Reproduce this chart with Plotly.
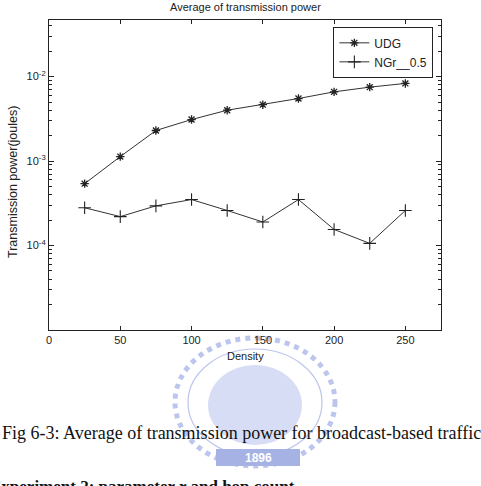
import plotly.graph_objects as go

density = [25, 50, 75, 100, 125, 150, 175, 200, 225, 250]
udg = [5.4e-4, 1.13e-3, 2.3e-3, 3.1e-3, 4.0e-3, 4.65e-3, 5.5e-3, 6.6e-3, 7.5e-3, 8.3e-3]
ngr = [2.8e-4, 2.2e-4, 2.95e-4, 3.5e-4, 2.6e-4, 1.9e-4, 3.5e-4, 1.55e-4, 1.06e-4, 2.6e-4]
x_ticks = [0, 50, 100, 150, 200, 250]
y_ticks = [1e-4, 1e-3, 1e-2]
y_tick_text = ["10<sup>-4</sup>", "10<sup>-3</sup>", "10<sup>-2</sup>"]

W, H = 481, 486
L, R, T, B = 49, 441, 20, 330
pw, ph = R - L, B - T

def px(x):
    return (x - L) / pw

def py(y):
    return (B - y) / ph

fig = go.Figure()
fig.add_trace(go.Scatter(x=density, y=udg, name="UDG", mode="lines+markers",
                         line=dict(color="#333", width=1),
                         marker=dict(symbol="asterisk-open", size=7, color="#222",
                                     line=dict(width=1.3, color="#222"))))
fig.add_trace(go.Scatter(x=density, y=ngr, name="NGr__0.5", mode="lines+markers",
                         line=dict(color="#333", width=1),
                         marker=dict(symbol="cross-thin-open", size=9, color="#222",
                                     line=dict(width=1.1, color="#222"))))

axis_font = dict(family="Liberation Sans, Arial", size=11, color="#222")
fig.update_layout(
    width=W, height=H,
    margin=dict(l=L, r=W - R, t=T, b=H - B),
    paper_bgcolor="white", plot_bgcolor="white",
    showlegend=True,
    legend=dict(x=0.98, y=0.977, xanchor="right", yanchor="top",
                bordercolor="#222", borderwidth=1.2, bgcolor="white",
                font=dict(family="Liberation Sans, Arial", size=12, color="#222"),
                tracegroupgap=0, itemwidth=30),
    xaxis=dict(range=[0, 275], tickvals=x_ticks, ticks="inside", ticklen=4,
               showgrid=False, zeroline=False, showline=True, linecolor="#222",
               linewidth=1.2, mirror="ticks", tickfont=axis_font, tickcolor="#222"),
    yaxis=dict(type="log", range=[-5, -1.33], tickvals=y_ticks, ticktext=y_tick_text,
               ticks="inside", ticklen=5, showgrid=False, zeroline=False,
               showline=True, linecolor="#222", linewidth=1.2, mirror="ticks",
               tickfont=axis_font, tickcolor="#222",
               minor=dict(ticks="inside", ticklen=3, tickcolor="#222", showgrid=False,
                          dtick="D1")),
    font=axis_font,
)

# faint watermark emblem behind the caption
wm = "#bcc5ee"
fig.add_shape(type="circle", xref="paper", yref="paper", layer="below",
              x0=px(175), x1=px(335), y0=py(338), y1=py(466),
              line=dict(color=wm, width=5, dash="dot"))
fig.add_shape(type="circle", xref="paper", yref="paper", layer="below",
              x0=px(188), x1=px(322), y0=py(349), y1=py(456),
              line=dict(color=wm, width=1.2))
fig.add_shape(type="circle", xref="paper", yref="paper", layer="below",
              x0=px(208), x1=px(302), y0=py(365), y1=py(445),
              fillcolor="#cdd4f2", line=dict(width=0), opacity=0.8)
fig.add_shape(type="rect", xref="paper", yref="paper", layer="below",
              x0=px(216), x1=px(300), y0=py(449), y1=py(466),
              fillcolor="#a6b2e4", line=dict(width=0))
fig.add_annotation(xref="paper", yref="paper", showarrow=False, x=px(258), y=py(457.5),
                   xanchor="center", yanchor="middle", text="<b>1896</b>",
                   font=dict(family="Liberation Sans, Arial", size=12, color="white"))

ann = [
    dict(text="Average of transmission power", x=px(245), y=py(7),
         font=dict(family="Liberation Sans, Arial", size=11, color="#222")),
    dict(text="Density", x=px(245), y=py(356),
         font=dict(family="Liberation Sans, Arial", size=11, color="#222")),
    dict(text="Transmission power(joules)", x=px(13), y=py(182), textangle=-90,
         font=dict(family="Liberation Sans, Arial", size=12.5, color="#222")),
    dict(text="Fig 6-3: Average of transmission power for broadcast-based traffic",
         x=px(241), y=py(433),
         font=dict(family="Liberation Serif, Times New Roman", size=18, color="#111")),
]
for a in ann:
    fig.add_annotation(xref="paper", yref="paper", showarrow=False,
                       xanchor="center", yanchor="middle", **a)
fig.add_annotation(xref="paper", yref="paper", showarrow=False, xanchor="left",
                   yanchor="top", x=px(-12), y=py(475),
                   text="<b>Experiment 2: parameter r and hop count</b>",
                   font=dict(family="Liberation Serif, Times New Roman", size=17, color="#111"))

fig.write_html("out.html")
